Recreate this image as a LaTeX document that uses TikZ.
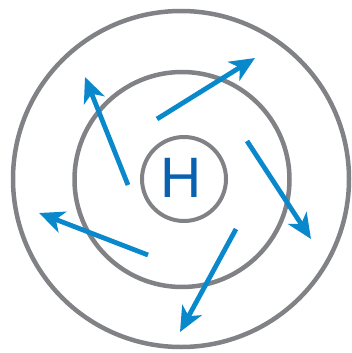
\documentclass[tikz,border=0pt]{standalone}
\usepackage{fontspec}
\setmainfont{Liberation Sans}
\usepackage{xcolor}
\usetikzlibrary{arrows.meta}
\definecolor{ringgray}{HTML}{808285}
\definecolor{flowblue}{HTML}{0A88CC}
\definecolor{hblue}{HTML}{0862B0}
\tikzset{
  ring/.style={circle, draw=ringgray, inner sep=0pt},
  wind/.style={-{Stealth[length=25pt, width=22pt, inset=7pt]}, draw=flowblue,
               line width=4.8pt},
}

\begin{document}
\begin{tikzpicture}[x=1pt, y=-1pt]
  \useasboundingbox (0,0) rectangle (351,353);
  \node[ring, line width=4.5pt, minimum size=336pt] (outer) at (181,179) {};
  \node[ring, line width=4.5pt, minimum size=215pt] (middle) at (182,179.5) {};
  \node[ring, line width=4pt, minimum size=84pt] (core) at (184,179) {};
  \node[text=hblue, font=\fontsize{57}{57}\selectfont, inner sep=0pt] (hlabel) at (181,177.5) {H};
  % spiral outflow
  \foreach \n/\ax/\ay/\bx/\by in {a/128/185/85/77, b/157/119/255/58,
      c/247/141/311/239, d/236/229/180/332, e/148/255/39/213} {
    \coordinate (s\n) at (\ax,\ay);
    \coordinate (t\n) at (\bx,\by);
    \draw[wind] (s\n) -- (t\n);
  }
\end{tikzpicture}
\end{document}
